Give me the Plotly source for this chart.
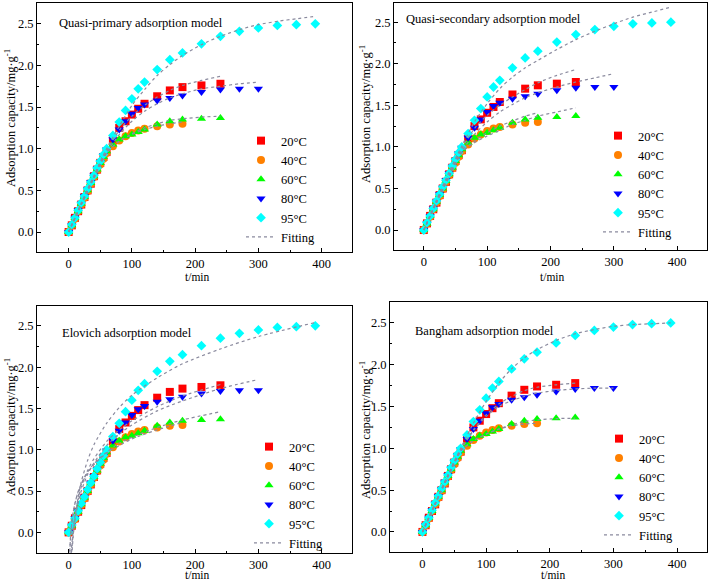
import plotly.graph_objects as go

# ---------------- data ----------------
t_early = [0, 5, 10, 15, 20, 25, 30, 35, 40, 45, 50, 55, 60]
t_20 = t_early + [70, 80, 90, 100, 110, 120, 140, 160, 180, 210, 240]
t_40 = t_early + [70, 80, 90, 100, 110, 120, 140, 160, 180]
t_60 = t_early + [70, 80, 90, 100, 110, 120, 140, 160, 180, 210, 240]
t_80 = t_early + [70, 80, 90, 100, 110, 120, 140, 160, 180, 210, 240, 270, 300]
t_95 = t_early + [70, 80, 90, 100, 110, 120, 140, 160, 180, 210, 240, 270, 300, 330, 360, 390]

q_20 = [0, 0.08, 0.17, 0.25, 0.33, 0.42, 0.50, 0.58, 0.67, 0.75, 0.83, 0.90, 0.96,
        1.10, 1.25, 1.33, 1.41, 1.48, 1.54, 1.63, 1.70, 1.74, 1.76, 1.78]
q_40 = [0, 0.08, 0.16, 0.25, 0.33, 0.41, 0.49, 0.58, 0.66, 0.74, 0.81, 0.88, 0.95,
        1.03, 1.10, 1.15, 1.19, 1.22, 1.24, 1.27, 1.29, 1.30]
q_60 = [0, 0.08, 0.17, 0.25, 0.34, 0.42, 0.50, 0.59, 0.67, 0.75, 0.83, 0.90, 0.97,
        1.05, 1.11, 1.15, 1.17, 1.20, 1.23, 1.29, 1.33, 1.35, 1.36, 1.37]
q_80 = [0, 0.08, 0.17, 0.26, 0.34, 0.43, 0.51, 0.60, 0.68, 0.76, 0.84, 0.92, 0.99,
        1.11, 1.23, 1.33, 1.42, 1.49, 1.53, 1.58, 1.61, 1.64, 1.68, 1.71, 1.72, 1.72]
q_95 = [0, 0.09, 0.17, 0.26, 0.35, 0.43, 0.52, 0.60, 0.68, 0.77, 0.85, 0.93, 1.00,
        1.16, 1.32, 1.46, 1.60, 1.72, 1.80, 1.95, 2.07, 2.15, 2.26, 2.35, 2.41, 2.45, 2.48, 2.49, 2.50]

series_names = ["20°C", "40°C", "60°C", "80°C", "95°C"]
series_t = [t_20, t_40, t_60, t_80, t_95]
series_q = [q_20, q_40, q_60, q_80, q_95]

# fitted curves (t, q) per model and temperature
tf_240 = [0, 20, 40, 60, 80, 100, 120, 140, 160, 180, 210, 240]
tf_180 = [0, 20, 40, 60, 80, 100, 120, 140, 160, 180]
tf_300 = [0, 20, 40, 60, 80, 100, 120, 140, 160, 180, 210, 240, 270, 300]
tf_390 = [0, 20, 40, 60, 80, 100, 120, 140, 160, 180, 210, 240, 270, 300, 330, 360, 390]

# Quasi-primary
qp_20 = [0, 0.33, 0.66, 0.97, 1.22, 1.39, 1.52, 1.62, 1.70, 1.76, 1.82, 1.87]
qp_40 = [0, 0.33, 0.65, 0.95, 1.09, 1.17, 1.23, 1.27, 1.30, 1.32]
qp_60 = [0, 0.34, 0.66, 0.95, 1.09, 1.18, 1.25, 1.30, 1.34, 1.36, 1.38, 1.39]
qp_80 = [0, 0.33, 0.65, 0.95, 1.17, 1.33, 1.45, 1.54, 1.61, 1.66, 1.72, 1.75, 1.78, 1.80]
qp_95 = [0, 0.35, 0.68, 1.00, 1.27, 1.52, 1.71, 1.88, 2.01, 2.12, 2.25, 2.35, 2.43, 2.49, 2.53, 2.56, 2.59]

# Quasi-secondary
qs_20 = [0, 0.34, 0.67, 0.98, 1.22, 1.38, 1.50, 1.60, 1.69, 1.77, 1.86, 1.93]
qs_40 = [0, 0.33, 0.64, 0.93, 1.07, 1.17, 1.25, 1.31, 1.37, 1.41]
qs_60 = [0, 0.33, 0.64, 0.93, 1.05, 1.13, 1.20, 1.27, 1.32, 1.37, 1.42, 1.47]
qs_80 = [0, 0.33, 0.65, 0.95, 1.15, 1.30, 1.42, 1.51, 1.59, 1.65, 1.72, 1.78, 1.83, 1.88]
qs_95 = [0, 0.36, 0.70, 1.01, 1.30, 1.52, 1.70, 1.84, 1.95, 2.04, 2.17, 2.29, 2.39, 2.48, 2.56, 2.62, 2.68]

# Elovich
te_20 = [4, 5, 7, 10, 15, 20, 30, 40, 60, 80, 100, 140, 180, 240]
qe_20 = [-0.26, -0.15, 0.02, 0.20, 0.40, 0.55, 0.75, 0.89, 1.10, 1.24, 1.35, 1.52, 1.65, 1.79]
te_40 = [1.5, 2, 3, 5, 7, 10, 15, 20, 30, 40, 60, 80, 100, 140, 180]
qe_40 = [-0.30, -0.20, -0.06, 0.11, 0.23, 0.35, 0.49, 0.58, 0.72, 0.82, 0.96, 1.05, 1.13, 1.24, 1.33]
te_60 = [1.5, 2, 3, 5, 7, 10, 15, 20, 30, 40, 60, 80, 100, 140, 180, 240]
qe_60 = [-0.32, -0.22, -0.07, 0.11, 0.23, 0.35, 0.49, 0.59, 0.73, 0.83, 0.97, 1.08, 1.15, 1.27, 1.36, 1.46]
te_80 = [4, 5, 7, 10, 15, 20, 30, 40, 60, 80, 100, 140, 180, 240, 300]
qe_80 = [-0.31, -0.20, -0.03, 0.15, 0.35, 0.50, 0.70, 0.84, 1.05, 1.19, 1.30, 1.47, 1.59, 1.74, 1.85]
te_95 = [5, 7, 10, 15, 20, 30, 40, 60, 80, 100, 140, 180, 240, 300, 390]
qe_95 = [-0.29, -0.07, 0.16, 0.42, 0.61, 0.87, 1.06, 1.32, 1.51, 1.66, 1.87, 2.04, 2.22, 2.37, 2.54]

# Bangham
qb_20 = [0, 0.33, 0.66, 0.97, 1.22, 1.40, 1.53, 1.62, 1.69, 1.73, 1.76, 1.78]
qb_40 = [0, 0.33, 0.66, 0.96, 1.09, 1.17, 1.23, 1.27, 1.29, 1.30]
qb_60 = [0, 0.34, 0.67, 0.97, 1.09, 1.17, 1.23, 1.28, 1.32, 1.34, 1.355, 1.36]
qb_80 = [0, 0.34, 0.68, 0.98, 1.21, 1.38, 1.50, 1.57, 1.62, 1.66, 1.69, 1.71, 1.72, 1.72]
qb_95 = [0, 0.34, 0.68, 1.00, 1.30, 1.56, 1.78, 1.95, 2.08, 2.18, 2.29, 2.37, 2.42, 2.46, 2.48, 2.49, 2.50]

fits = [
    [(tf_240, qp_20), (tf_180, qp_40), (tf_240, qp_60), (tf_300, qp_80), (tf_390, qp_95)],
    [(tf_240, qs_20), (tf_180, qs_40), (tf_240, qs_60), (tf_300, qs_80), (tf_390, qs_95)],
    [(te_20, qe_20), (te_40, qe_40), (te_60, qe_60), (te_80, qe_80), (te_95, qe_95)],
    [(tf_240, qb_20), (tf_180, qb_40), (tf_240, qb_60), (tf_300, qb_80), (tf_390, qb_95)],
]
model_titles = ["Quasi-primary adsorption model", "Quasi-secondary adsorption model",
                "Elovich adsorption model", "Bangham adsorption model"]
x_tick_vals = [0, 100, 200, 300, 400]
y_tick_vals = [0.0, 0.5, 1.0, 1.5, 2.0, 2.5]

# ---------------- style ----------------
W, H = 710, 582
FONT = "Liberation Serif"
colors = ["#FF0000", "#FF8000", "#00FF00", "#0000FF", "#00FFFF"]
symbols = ["square", "circle", "triangle-up", "triangle-down", "diamond"]
sizes = [8, 8, 8, 8, 7.5]
fit_color = "#8a8a9e"

# panel frames in pixels: (left, right, top, bottom)
frames = [(37, 352, 3, 252), (394, 707, 3, 250), (37, 352, 306, 553), (390, 707, 302, 552)]
xranges = [[-50, 448], [-47, 447], [-50, 448], [-51, 447]]
yranges = [[-0.24, 2.75], [-0.24, 2.73], [-0.25, 2.74], [-0.24, 2.75]]
title_pos = [(57, 23), (404, 19), (60, 333), (413, 331)]
xt_pos = [(197, 277), (552, 277), (197, 575), (553, 575)]
yt_pos = [(10, 118), (365, 114), (10, 427), (365, 430)]
legend_pos = [(241, 126), (598, 121), (249, 432), (599, 424)]

fig = go.Figure()

for p in range(4):
    sfx = "" if p == 0 else str(p + 1)
    xa, ya = "x" + sfx, "y" + sfx
    lg = "legend" + sfx
    for i in range(5):
        fig.add_trace(go.Scatter(
            x=series_t[i], y=series_q[i], mode="markers", name=series_names[i],
            marker=dict(symbol=symbols[i], size=sizes[i], color=colors[i], line=dict(width=0)),
            xaxis=xa, yaxis=ya, legend=lg, showlegend=True))
    for i in range(5):
        tt, qq = fits[p][i]
        fig.add_trace(go.Scatter(
            x=tt, y=qq, mode="lines", name="Fitting",
            line=dict(color=fit_color, width=1.2, dash="dot", shape="spline", smoothing=0.8),
            xaxis=xa, yaxis=ya, legend=lg, showlegend=(i == 0)))

layout = dict(width=W, height=H, margin=dict(l=0, r=0, t=0, b=0),
              paper_bgcolor="white", plot_bgcolor="white",
              font=dict(family=FONT, size=12, color="black"))
axis_common = dict(showline=True, linecolor="black", linewidth=1, mirror=True,
                   ticks="inside", ticklen=4, tickcolor="black", tickwidth=1,
                   showgrid=False, zeroline=False,
                   tickfont=dict(family=FONT, size=12.5, color="black"))
annotations = []
for p in range(4):
    sfx = "" if p == 0 else str(p + 1)
    l, r, t, b = frames[p]
    layout["xaxis" + sfx] = dict(axis_common, domain=[l / W, r / W], range=xranges[p],
                                 tickvals=x_tick_vals, anchor="y" + sfx,
                                 minor=dict(ticks="inside", ticklen=2, tickcolor="black", dtick=50))
    layout["yaxis" + sfx] = dict(axis_common, domain=[1 - b / H, 1 - t / H], range=yranges[p],
                                 tickvals=y_tick_vals, tickformat=".1f", anchor="x" + sfx,
                                 minor=dict(ticks="inside", ticklen=2, tickcolor="black", dtick=0.25))
    lx, ly = legend_pos[p]
    layout["legend" + sfx] = dict(x=lx / W, y=1 - ly / H, xanchor="left", yanchor="top",
                                  bgcolor="rgba(0,0,0,0)", borderwidth=0,
                                  font=dict(family=FONT, size=12.5, color="black"),
                                  tracegroupgap=0)
    tx, ty = title_pos[p]
    annotations.append(dict(text=model_titles[p], x=tx / W, y=1 - ty / H, xref="paper", yref="paper",
                            xanchor="left", yanchor="middle", showarrow=False,
                            font=dict(family=FONT, size=12.5, color="black")))
    ax_, ay_ = xt_pos[p]
    annotations.append(dict(text="t/min", x=ax_ / W, y=1 - ay_ / H, xref="paper", yref="paper",
                            xanchor="center", yanchor="middle", showarrow=False,
                            font=dict(family=FONT, size=11.5, color="black")))
    bx, by = yt_pos[p]
    annotations.append(dict(text="Adsorption capacity/mg·g<sup>-1</sup>", x=bx / W, y=1 - by / H,
                            xref="paper", yref="paper", xanchor="center", yanchor="middle",
                            textangle=-90, showarrow=False,
                            font=dict(family=FONT, size=12.5, color="black")))
layout["annotations"] = annotations
fig.update_layout(**layout)

fig.write_html("out.html", config={"displayModeBar": False},
               post_script="document.body.style.margin='0';document.body.style.padding='0';")
